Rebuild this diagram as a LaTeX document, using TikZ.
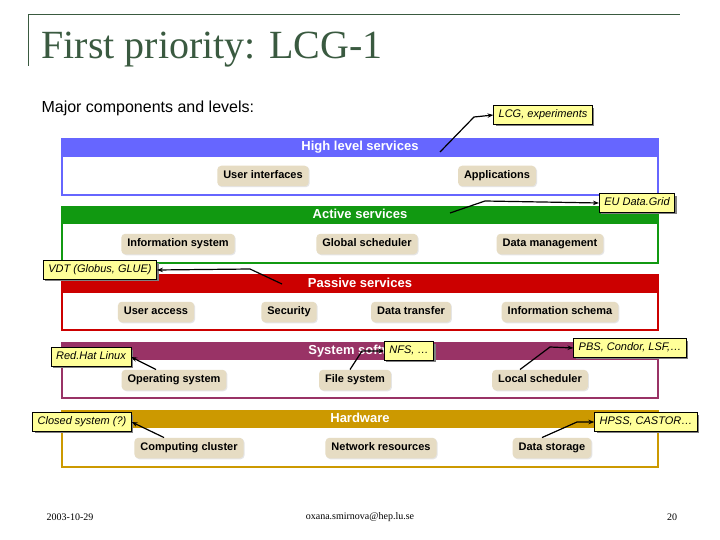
\documentclass[tikz,border=0pt]{standalone}
\usepackage{fontspec}
\setmainfont{Liberation Serif}
\setsansfont{Liberation Sans}
\usetikzlibrary{arrows.meta,shadows}
\definecolor{hb}{HTML}{6666FF}
\definecolor{hg}{HTML}{119911}
\definecolor{hr}{HTML}{CC0000}
\definecolor{hp}{HTML}{993366}
\definecolor{hy}{HTML}{CC9900}
\definecolor{pill}{HTML}{E6DCC3}
\definecolor{note}{HTML}{FFFF99}
\definecolor{ttl}{HTML}{3A5A40}
\tikzset{
 pillbox/.style={fill=pill,rounded corners=4pt,inner xsep=6pt,inner ysep=5pt,text height=8pt,text depth=2.5pt,font=\sffamily\bfseries\fontsize{11}{13}\selectfont,drop shadow={shadow xshift=1pt,shadow yshift=-1pt,fill=black!20}},
 notebox/.style={fill=note,draw=black,line width=0.6pt,inner xsep=5pt,inner ysep=4pt,text height=8pt,text depth=2.5pt,font=\sffamily\itshape\fontsize{11}{13}\selectfont,drop shadow={shadow xshift=2pt,shadow yshift=-2pt,fill=black!50,opacity=1}},
 hdr/.style={font=\sffamily\bfseries\fontsize{13}{15}\selectfont,text=white,text height=9pt,text depth=3pt},
 conn/.style={line width=1.2pt,-{Stealth[length=6pt]}},
}
\begin{document}
\begin{tikzpicture}[x=1pt,y=-1pt]
\useasboundingbox (0,0) rectangle (720,540);
\fill[white] (0,0) rectangle (720,540);
\draw[ttl,line width=1pt] (28,66) -- (28,15) -- (680,15);
\node[anchor=west,text=ttl,font=\fontsize{40}{44}\selectfont] (title) at (38,50) {First priority: LCG-1};
\node[anchor=west,font=\sffamily\fontsize{16}{18}\selectfont] (sub) at (38,108) {Major components and levels:};
% layers
\foreach \yt/\yh/\yb/\c/\t in {139/157/195/hb/High level services,207/224/263/hg/Active services,275/293/330/hr/Passive services,343/360/398/hp/System software,411/428/467/hy/Hardware}{
 \draw[\c,line width=1.2pt] (62,\yt) rectangle (658,\yb);
 \fill[\c] (62,\yt) rectangle (658,\yh);
 \node[hdr] at (360,{(\yt+\yh)/2}) {\t};
}
% pills
\node[pillbox] (ui) at (263,176) {User interfaces};
\node[pillbox] (app) at (497,176) {Applications};
\node[pillbox] (is) at (178,244) {Information system};
\node[pillbox] (gs) at (367,244) {Global scheduler};
\node[pillbox] (dm) at (550,244) {Data management};
\node[pillbox] (ua) at (156,312) {User access};
\node[pillbox] (sec) at (289,312) {Security};
\node[pillbox] (dt) at (411,312) {Data transfer};
\node[pillbox] (isc) at (560,312) {Information schema};
\node[pillbox] (os) at (174,380) {Operating system};
\node[pillbox] (fs) at (355,380) {File system};
\node[pillbox] (ls) at (540,380) {Local scheduler};
\node[pillbox] (cc) at (189,448) {Computing cluster};
\node[pillbox] (nr) at (381,448) {Network resources};
\node[pillbox] (ds) at (552,448) {Data storage};
% notes
\node[notebox] (lcg) at (543,115) {LCG, experiments};
\node[notebox] (eu) at (637,203) {EU Data.Grid};
\node[notebox] (vdt) at (100,270) {VDT (Globus, GLUE)};
\node[notebox] (rh) at (91,357) {Red.Hat Linux};
\node[notebox] (nfs) at (409,351) {NFS, \dots};
\node[notebox] (pbs) at (630,348) {PBS, Condor, LSF,\dots};
\node[notebox] (cs) at (82,422) {Closed system (?)};
\node[notebox] (hp) at (646,422) {HPSS, CASTOR\dots};
\coordinate (c1) at (440,152);
\coordinate (c2) at (450,213);
\coordinate (c3) at (282,284);
\draw[conn] (c1) -- (474,117) -- (lcg.west);
\draw[conn] (c2) -- (485,201) -- (eu.west);
\draw[conn] (c3) -- (250,269) -- (vdt.east);
\draw[conn] (os.north) ++(-18,0) -- (rh.east);
\draw[conn] (fs.north) ++(-5,0) -- (362,351) -- (nfs.west);
\draw[conn] (ls.north) ++(-20,0) -- (550,347) -- (pbs.west);
\draw[conn] (cc.north) ++(-25,0) -- (cs.east);
\draw[conn] (ds.north) ++(-10,0) -- (577,422) -- (hp.west);
% footer
\node[font=\fontsize{10}{12}\selectfont] (date) at (70,517) {2003-10-29};
\node[font=\fontsize{10}{12}\selectfont] (mail) at (360,517) {oxana.smirnova@hep.lu.se};
\node[font=\fontsize{10}{12}\selectfont] (pg) at (672,517) {20};
\end{tikzpicture}
\end{document}
